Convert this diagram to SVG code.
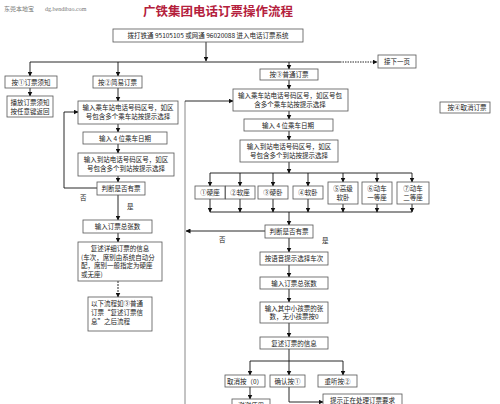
<svg xmlns="http://www.w3.org/2000/svg" width="500" height="404" viewBox="0 0 500 404">
<style>
.box{fill:#fff;stroke:#555;stroke-width:0.8}
.t{font-family:"Noto Sans CJK SC","Liberation Sans",sans-serif;font-size:6.5px;fill:#222}
.m{text-anchor:middle}
.c{stroke:#111;stroke-width:0.9;fill:none}
.a{marker-end:url(#ah)}
.sep{stroke:#888;stroke-width:1;fill:none}
</style>
<defs>
<marker id="ah" markerWidth="5" markerHeight="5" refX="4.5" refY="2.5" orient="auto" markerUnits="userSpaceOnUse">
<path d="M0,0 L5,2.5 L0,5 z" fill="#111"/>
</marker>
</defs>
<rect width="500" height="404" fill="#fff"/>
<g id="header">
<text x="4" y="11" style="font-family:'Noto Sans CJK SC',sans-serif;font-size:6px;fill:#777">东莞本地宝</text>
<text x="45" y="11" style="font-family:'Liberation Serif',serif;font-size:6px;fill:#777">dg.bendibao.com</text>
<text x="218" y="16" text-anchor="middle" style="font-family:'Noto Sans CJK SC',sans-serif;font-size:12.5px;font-weight:bold;fill:#b4203c">广铁集团电话订票操作流程</text>
</g>
<g id="connectors">
<path class="c a" d="M206,42 V61"/>
<path class="c" d="M30,62 H340"/>
<path class="c a" d="M340,62 H377" stroke-dasharray="1.5,1"/>
<path class="c a" d="M30,62 V76"/>
<path class="c a" d="M118,62 V76"/>
<path class="c a" d="M289,62 V69"/>
<path class="c a" d="M30,88 V96"/>
<path class="c a" d="M118,88 V101"/>
<path class="c a" d="M118,124 V132"/>
<path class="c a" d="M118,144 V153"/>
<path class="c a" d="M118,176 V182"/>
<path class="c a" d="M97,188 H64 V112 H78"/>
<path class="c a" d="M118,195 V220"/>
<path class="c a" d="M118,233 V242"/>
<path class="c a" d="M118,281 V297" stroke-dasharray="2,1"/>
<path class="sep" d="M185,101 V404"/>
<path class="c a" d="M185,101 H233"/>
<path class="c a" d="M289,80 V89"/>
<path class="c a" d="M289,111 V119"/>
<path class="c a" d="M289,131 V140"/>
<path class="c a" d="M289,162 V173"/>
<path class="c" d="M210,173 H412"/>
<path class="c a" d="M210,173 V186"/>
<path class="c a" d="M240,173 V186"/>
<path class="c a" d="M273,173 V186"/>
<path class="c a" d="M308,173 V186"/>
<path class="c a" d="M343,173 V182"/>
<path class="c a" d="M377,173 V182"/>
<path class="c a" d="M412,173 V182"/>
<path class="c a" d="M210,199 V212"/>
<path class="c a" d="M240,199 V212"/>
<path class="c a" d="M273,199 V212"/>
<path class="c a" d="M308,199 V212"/>
<path class="c a" d="M343,204 V212"/>
<path class="c a" d="M377,204 V212"/>
<path class="c a" d="M412,204 V212"/>
<path class="c" d="M210,212 H412"/>
<path class="c a" d="M289,212 V225"/>
<path class="c a" d="M265,231 H186"/>
<path class="c a" d="M289,238 V252"/>
<path class="c a" d="M289,265 V277"/>
<path class="c a" d="M289,289 V302"/>
<path class="c a" d="M289,323 V337"/>
<path class="c" d="M289,349 V361 M250,361 H343"/>
<path class="c a" d="M250,361 V375"/>
<path class="c a" d="M289,361 V375"/>
<path class="c a" d="M343,361 V375"/>
<path class="c a" d="M250,387 V399"/>
<path class="c a" d="M289,387 V402 H323"/>
<text class="t" x="80" y="200">否</text>
<text class="t" x="127" y="209">是</text>
<text class="t" x="219" y="242">否</text>
<text class="t" x="322" y="243">是</text>
</g>
<g id="n-start"><rect class="box" x="113" y="29" width="190" height="13"/><text class="t m" x="208" y="38">拨打铁通 95105105 或网通 96020088 进入电话订票系统</text></g>
<g id="n-next"><rect class="box" x="378" y="55" width="38" height="13"/><text class="t m" x="397" y="64">接下一页</text></g>
<g id="n-cancel4"><rect class="box" x="440" y="102" width="50" height="11"/><text class="t m" x="467" y="110">按④取消订票</text></g>
<g id="n-1"><rect class="box" x="5" y="76" width="52" height="12"/><text class="t m" x="31" y="84.5">按①订票须知</text></g>
<g id="n-1b"><rect class="box" x="7" y="96" width="46" height="21"/><text class="t m" x="30" y="104.5">播放订票须知</text><text class="t m" x="30" y="113.5">按任意键返回</text></g>
<g id="n-2"><rect class="box" x="93" y="76" width="49" height="12"/><text class="t m" x="117.5" y="84.5">按②简易订票</text></g>
<g id="n-2a"><rect class="box" x="78" y="101" width="100" height="23"/><text class="t m" x="128" y="110">输入乘车站电话号码区号，如区</text><text class="t m" x="128" y="119">号包含多个乘车站按提示选择</text></g>
<g id="n-2b"><rect class="box" x="83" y="132" width="84" height="12"/><text class="t m" x="125" y="140.5">输入 4 位乘车日期</text></g>
<g id="n-2c"><rect class="box" x="78" y="153" width="96" height="23"/><text class="t m" x="126" y="162">输入到站电话号码区号，如区</text><text class="t m" x="126" y="171">号包含多个到站按提示选择</text></g>
<g id="n-2d"><rect class="box" x="97" y="182" width="48" height="13"/><text class="t m" x="121" y="191">判断是否有票</text></g>
<g id="n-2e"><rect class="box" x="83" y="220" width="69" height="13"/><text class="t m" x="117.5" y="229">输入订票总张数</text></g>
<g id="n-2f"><rect class="box" x="78" y="242" width="84" height="39"/><text class="t m" x="120" y="251">复述详细订票的信息</text><text class="t" x="81" y="259.5">(车次，席别由系统自动分</text><text class="t" x="81" y="268">配，席别一般指定为硬座</text><text class="t" x="81" y="276.5">或无座)</text></g>
<g id="n-2g"><rect class="box" x="88" y="297" width="64" height="34"/><text class="t" x="91" y="306">以下流程如③普通</text><text class="t" x="91" y="315">订票“复述订票信</text><text class="t" x="91" y="324">息”之后流程</text></g>
<g id="n-3"><rect class="box" x="260" y="69" width="58" height="11"/><text class="t m" x="289" y="77">按③普通订票</text></g>
<g id="n-3a"><rect class="box" x="233" y="89" width="115" height="22"/><text class="t m" x="290" y="97.5">输入乘车站电话号码区号，如区号包</text><text class="t m" x="290" y="106.5">含多个乘车站按提示选择</text></g>
<g id="n-3b"><rect class="box" x="244" y="119" width="89" height="12"/><text class="t m" x="288" y="127.5">输入 4 位乘车日期</text></g>
<g id="n-3c"><rect class="box" x="240" y="140" width="98" height="22"/><text class="t m" x="289" y="148.5">输入到站电话号码区号，如区</text><text class="t m" x="289" y="157.5">号包含多个到站按提示选择</text></g>
<g id="s1"><rect class="box" x="195" y="186" width="30" height="13"/><text class="t m" x="210" y="195">①硬座</text></g>
<g id="s2"><rect class="box" x="225.5" y="186" width="29.5" height="13"/><text class="t m" x="240" y="195">②软座</text></g>
<g id="s3"><rect class="box" x="258" y="186" width="30" height="13"/><text class="t m" x="273" y="195">③硬卧</text></g>
<g id="s4"><rect class="box" x="293" y="186" width="30" height="13"/><text class="t m" x="308" y="195">④软卧</text></g>
<g id="s5"><rect class="box" x="328" y="182" width="30" height="22"/><text class="t m" x="343" y="191">⑤高级</text><text class="t m" x="343" y="200">软卧</text></g>
<g id="s6"><rect class="box" x="362" y="182" width="30" height="22"/><text class="t m" x="377" y="191">⑥动车</text><text class="t m" x="377" y="200">一等座</text></g>
<g id="s7"><rect class="box" x="397" y="182" width="32" height="22"/><text class="t m" x="413" y="191">⑦动车</text><text class="t m" x="413" y="200">二等座</text></g>
<g id="n-3d"><rect class="box" x="265" y="225" width="48" height="13"/><text class="t m" x="289" y="234">判断是否有票</text></g>
<g id="n-3e"><rect class="box" x="260" y="252" width="68" height="13"/><text class="t m" x="294" y="261">按语音提示选择车次</text></g>
<g id="n-3f"><rect class="box" x="260" y="277" width="68" height="12"/><text class="t m" x="294" y="285.5">输入订票总张数</text></g>
<g id="n-3g"><rect class="box" x="260" y="302" width="68" height="21"/><text class="t m" x="294" y="310.5">输入其中小孩票的张</text><text class="t m" x="294" y="319">数，无小孩票按0</text></g>
<g id="n-3h"><rect class="box" x="260" y="337" width="68" height="12"/><text class="t m" x="294" y="345.5">复述订票的信息</text></g>
<g id="n-c0"><rect class="box" x="225" y="375" width="40" height="12"/><text class="t m" x="245" y="383.5">取消按（0）</text></g>
<g id="n-c1"><rect class="box" x="270" y="375" width="35" height="12"/><text class="t m" x="287.5" y="383.5">确认按①</text></g>
<g id="n-c2"><rect class="box" x="318" y="375" width="39" height="12"/><text class="t m" x="337.5" y="383.5">重听按②</text></g>
<g id="n-end"><rect class="box" x="232" y="399" width="38" height="12"/><text class="t m" x="251" y="408">谢谢使用</text></g>
<g id="n-proc"><rect class="box" x="323" y="394" width="79" height="14"/><text class="t m" x="362.5" y="402.5">提示正在处理订票要求</text></g>
</svg>
